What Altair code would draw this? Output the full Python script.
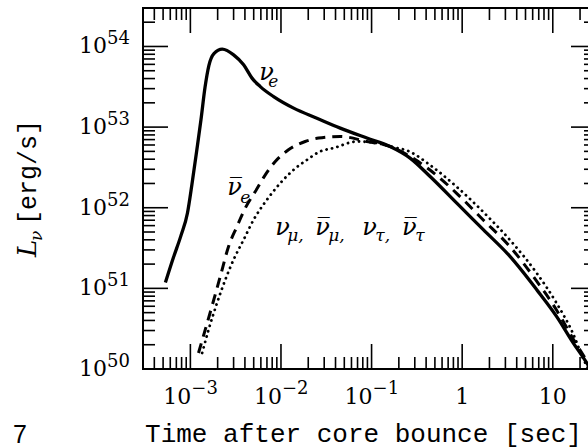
import altair as alt
import pandas as pd

# Neutrino luminosity after core bounce: time [s], luminosity [erg/s]
nue_t = [5.30e-4, 6.50e-4, 7.87e-4, 9.29e-4, 1.04e-3, 1.18e-3, 1.31e-3, 1.45e-3,
         1.60e-3, 1.82e-3, 2.25e-3, 3.00e-3, 3.87e-3, 4.79e-3, 5.91e-3, 8.29e-3,
         1.38e-2, 2.49e-2, 4.51e-2, 8.88e-2, 0.160, 0.266, 0.443, 0.872, 1.71, 3.37,
         6.65, 11.0, 16.8, 23.7, 27.0]
nue_L = [1.18e51, 2.41e51, 4.51e51, 8.61e51, 1.94e52, 5.26e52, 1.24e53, 3.09e53,
         5.79e53, 8.16e53, 9.26e53, 7.87e53, 5.92e53, 4.05e53, 3.18e53, 2.39e53,
         1.72e53, 1.29e53, 9.72e52, 7.31e52, 5.75e52, 4.13e52, 2.44e52, 1.14e52,
         5.34e51, 2.49e51, 9.63e50, 4.50e50, 2.11e50, 1.19e50, 9.3e49]

nuebar_t = [1.23e-3, 1.46e-3, 1.73e-3, 2.14e-3, 2.64e-3, 3.27e-3, 4.04e-3, 5.21e-3,
            6.71e-3, 8.65e-3, 1.21e-2, 1.85e-2, 2.60e-2, 4.51e-2, 8.88e-2, 0.160,
            0.266, 0.441, 0.869, 1.71, 3.37, 6.64, 11.0, 16.8, 23.7, 27.1]
nuebar_L = [1.58e50, 3.08e50, 5.98e50, 1.41e51, 3.31e51, 5.86e51, 9.91e51, 1.59e52,
            2.56e52, 3.75e52, 5.23e52, 6.63e52, 7.31e52, 7.65e52, 6.63e52, 5.75e52,
            4.32e52, 2.94e52, 1.51e52, 7.05e51, 3.29e51, 1.23e51, 5.39e50, 2.36e50,
            1.26e50, 9.7e49]

nux_t = [1.35e-3, 1.59e-3, 1.97e-3, 2.43e-3, 3.00e-3, 3.87e-3, 4.99e-3, 7.01e-3,
         9.83e-3, 1.38e-2, 1.94e-2, 2.71e-2, 3.80e-2, 6.89e-2, 0.114, 0.160, 0.265,
         0.441, 0.869, 1.71, 3.37, 6.64, 11.0, 16.8, 21.5, 25.1]
nux_L = [1.58e50, 3.08e50, 6.59e50, 1.28e51, 2.27e51, 4.01e51, 7.10e51, 1.26e52,
         2.02e52, 2.96e52, 3.93e52, 4.99e52, 5.50e52, 6.63e52, 6.34e52, 5.75e52,
         4.95e52, 3.39e52, 1.82e52, 8.86e51, 3.98e51, 1.55e51, 6.58e50, 2.72e50,
         1.37e50, 9.7e49]

# axis ticks and their labels (mantissa text and exponent text)
x_major = [1e-3, 1e-2, 1e-1, 1, 10]
x_base = ["10", "10", "10", "1", "10"]
x_exp = ["−3", "−2", "−1", "", ""]
y_major = [1e50, 1e51, 1e52, 1e53, 1e54]
y_base = ["10", "10", "10", "10", "10"]
y_exp = ["50", "51", "52", "53", "54"]

X_DOMAIN = [3e-4, 30]
Y_DOMAIN = [1e50, 3e54]

x_minor = [m * 10.0 ** e for e in range(-4, 2) for m in range(2, 10)
           if X_DOMAIN[0] <= m * 10.0 ** e <= X_DOMAIN[1]]
y_minor = [m * 10.0 ** e for e in range(50, 55) for m in range(2, 10)
           if Y_DOMAIN[0] <= m * 10.0 ** e <= Y_DOMAIN[1]]

# curve labels: main symbol and subscript anchors in data units
label_main = pd.DataFrame({
    "t": [5.76e-3, 2.56e-3, 8.65e-3, 2.39e-2, 7.87e-2, 0.217],
    "L": [3.86e53, 1.45e52, 4.62e51, 4.62e51, 4.62e51, 4.62e51],
    "text": ["ν", "ν\u0305", "ν", "ν\u0305", "ν", "ν\u0305"],
})
label_sub = pd.DataFrame({
    "t": [7.24e-3, 3.56e-3, 1.17e-2, 3.33e-2, 0.110, 0.303],
    "L": [3.16e53, 1.15e52, 3.90e51, 3.90e51, 3.90e51, 3.90e51],
    "text": ["e", "e", "μ,", "μ,", "τ,", "τ"],
})

W, H = 453, 361
xs = alt.Scale(type="log", domain=X_DOMAIN, nice=False)
ys = alt.Scale(type="log", domain=Y_DOMAIN, nice=False)

x_axis = alt.Axis(values=x_major, labels=False, ticks=False, tickSize=0,
                  domain=False, grid=False,
                  title="Time after core bounce [sec]", titleFont="Liberation Mono",
                  titleFontSize=26, titleFontWeight="normal", titleColor="black",
                  titleX=220, titleY=72, titleAlign="center", titleBaseline="alphabetic")
y_axis = alt.Axis(values=y_major, labels=False, ticks=False, tickSize=0,
                  domain=False, grid=False, title=None)

X = lambda f: alt.X(f, scale=xs, axis=x_axis)
Y = lambda f: alt.Y(f, scale=ys, axis=y_axis)


def curve(t, L, dash=None, width=3.3, cap="butt"):
    df = pd.DataFrame({"t": t, "L": L})
    props = dict(color="black", strokeWidth=width, clip=True,
                 interpolate="monotone", strokeCap=cap)
    if dash:
        props["strokeDash"] = dash
    return alt.Chart(df).mark_line(**props).encode(x=X("t:Q"), y=Y("L:Q"))


def xticks(vals, length):
    df = pd.DataFrame({"v": vals})
    base = alt.Chart(df).mark_rule(color="black", strokeWidth=1.6)
    return (base.encode(x=X("v:Q"), y=alt.value(H), y2=alt.value(H - length))
            + base.encode(x=X("v:Q"), y=alt.value(0), y2=alt.value(length)))


def yticks(vals, length):
    df = pd.DataFrame({"v": vals})
    base = alt.Chart(df).mark_rule(color="black", strokeWidth=1.6)
    return (base.encode(y=Y("v:Q"), x=alt.value(0), x2=alt.value(length))
            + base.encode(y=Y("v:Q"), x=alt.value(W), x2=alt.value(W - length)))


def tick_text(**kw):
    return alt.Chart().mark_text(font="DejaVu Serif", color="black",
                                 baseline="alphabetic", **kw)


# bottom tick labels: "10" with a raised exponent, or a plain number
xlab = pd.DataFrame({"v": x_major, "base": x_base, "exp": x_exp})
xlab_pow = xlab[xlab["exp"] != ""]
xlab_plain = xlab[xlab["exp"] == ""]
x_labels = alt.layer(
    tick_text(fontSize=22, align="right", dx=1).encode(
        x=X("v:Q"), y=alt.value(H + 35), text="base:N").properties(data=xlab_pow),
    tick_text(fontSize=18, align="left", dx=1).encode(
        x=X("v:Q"), y=alt.value(H + 25), text="exp:N").properties(data=xlab_pow),
    tick_text(fontSize=22, align="center").encode(
        x=X("v:Q"), y=alt.value(H + 35), text="base:N").properties(data=xlab_plain),
)

# left tick labels
ylab = pd.DataFrame({"v": y_major, "base": y_base, "exp": y_exp})
y_labels = alt.layer(
    tick_text(fontSize=22, align="right", dy=7).encode(
        y=Y("v:Q"), x=alt.value(-36), text="base:N"),
    tick_text(fontSize=18, align="right", dy=-2).encode(
        y=Y("v:Q"), x=alt.value(-13), text="exp:N"),
).properties(data=ylab)

one = pd.DataFrame({"k": [0]})


def note(text, x, y, font, size, angle=0, style="normal"):
    return alt.Chart(one).mark_text(
        text=text, font=font, fontSize=size, angle=angle, fontStyle=style,
        align="left", baseline="alphabetic", color="black",
    ).encode(x=alt.value(x), y=alt.value(y))


def curve_labels(df, size):
    return alt.Chart(df).mark_text(
        font="DejaVu Serif", fontStyle="italic", fontSize=size, align="left",
        baseline="alphabetic", color="black",
    ).encode(x=X("t:Q"), y=Y("L:Q"), text="text:N")


chart = alt.layer(
    curve(nue_t, nue_L),
    curve(nuebar_t, nuebar_L, dash=[10, 7], width=3.0),
    curve(nux_t, nux_L, dash=[0.1, 5.5], width=2.8, cap="round"),
    xticks(x_major, 25), xticks(x_minor, 12),
    yticks(y_major, 25), yticks(y_minor, 12),
    x_labels, y_labels,
    curve_labels(label_main, 24), curve_labels(label_sub, 17),
    note("L", -107, 249, "DejaVu Serif", 26, angle=270, style="italic"),
    note("ν", -101, 233, "DejaVu Serif", 17, angle=270, style="italic"),
    note("[erg/s]", -107, 217, "Liberation Mono", 25, angle=270),
    note("7", -130, 435, "Liberation Sans", 25),
).properties(
    width=W, height=H,
    autosize=alt.AutoSizeParams(type="none"),
    padding={"left": 143, "top": 8, "right": -8, "bottom": 78},
).configure_view(stroke="black", strokeWidth=2)

chart.save("out.html", embed_options={"renderer": "svg", "actions": False})
